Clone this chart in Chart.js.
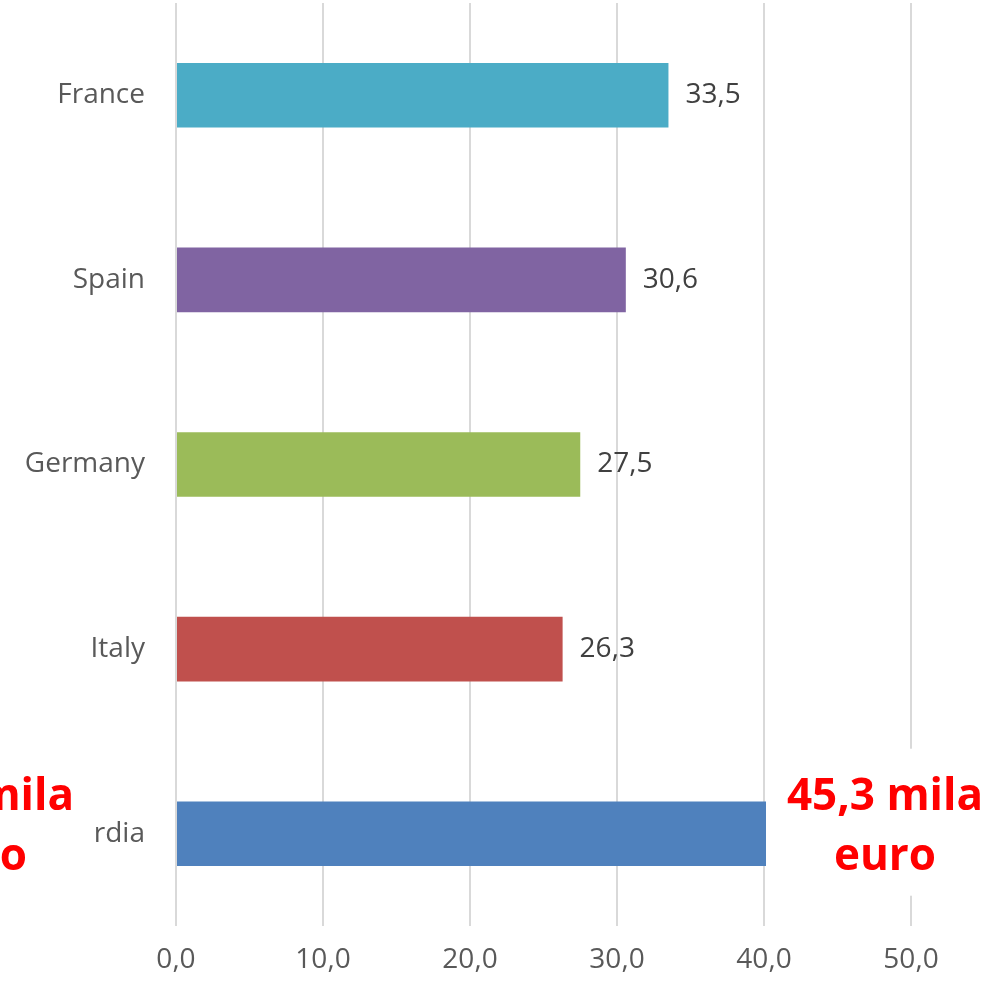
<!DOCTYPE html>
<html><head><meta charset="utf-8">
<script src="https://cdn.jsdelivr.net/npm/chart.js@4.4.0/dist/chart.umd.min.js"></script>
<style>html,body{margin:0;padding:0;background:#fff;overflow:hidden}</style>
</head><body><canvas id="c" width="1002" height="986"></canvas>
<script>
const categories = ['France', 'Spain', 'Germany', 'Italy', 'Lombardia'];
const values = [33.5, 30.6, 27.5, 26.3, 45.3];
const barColors = ['#4BACC6', '#8064A2', '#9BBB59', '#C0504D', '#4F81BD'];
const axisMin = 0, axisMax = 50, axisStep = 10;
const calloutLines = ['45,3 mila', 'euro'];

const fmt = v => v.toFixed(1).replace('.', ',');
const FONT = '"Open Sans", sans-serif';

const valueLabels = {
  id: 'valueLabels',
  afterDatasetsDraw(chart) {
    const ctx = chart.ctx;
    const meta = chart.getDatasetMeta(0);
    ctx.save();
    ctx.font = '28px ' + FONT;
    ctx.fillStyle = '#404040';
    ctx.textAlign = 'left';
    ctx.textBaseline = 'middle';
    meta.data.forEach((bar, i) => {
      ctx.fillText(fmt(values[i]), bar.x + 17, bar.y);
    });
    ctx.restore();
  }
};

const callout = {
  id: 'callout',
  afterDraw(chart) {
    const ctx = chart.ctx;
    const xs = chart.scales.x;
    const meta = chart.getDatasetMeta(0);
    const bar = meta.data[values.length - 1];
    const top = bar.y - 85, bottom = bar.y + 62;
    const rightLeft = xs.getPixelForValue(40) + 2;
    ctx.save();
    ctx.fillStyle = '#ffffff';
    ctx.fillRect(rightLeft, top, chart.width - rightLeft, bottom - top);
    ctx.fillRect(-150, top, 246, bottom - top);
    ctx.fillStyle = '#FF0000';
    ctx.font = 'bold 44px ' + FONT;
    ctx.textAlign = 'center';
    ctx.textBaseline = 'alphabetic';
    [885, -24].forEach(cx => {
      ctx.fillText(calloutLines[0], cx, bar.y - 24);
      ctx.fillText(calloutLines[1], cx, bar.y + 36);
    });
    ctx.restore();
  }
};

new Chart(document.getElementById('c'), {
  type: 'bar',
  data: {
    labels: categories,
    datasets: [{
      data: values,
      backgroundColor: barColors,
      borderWidth: 0,
      barPercentage: 0.35,
      categoryPercentage: 1
    }]
  },
  options: {
    indexAxis: 'y',
    responsive: false,
    animation: false,
    devicePixelRatio: 1,
    layout: { padding: { top: 3, right: 91, left: 0, bottom: 0 } },
    plugins: { legend: { display: false }, tooltip: { enabled: false } },
    scales: {
      x: {
        min: axisMin, max: axisMax,
        ticks: { stepSize: axisStep, callback: v => fmt(v), font: { family: FONT, size: 28 }, color: '#595959', padding: 17 },
        grid: { color: '#d9d9d9', lineWidth: 2, drawTicks: false },
        border: { display: false },
        afterFit: s => { s.height = 60; s.paddingLeft = 0; s.paddingRight = 0; }
      },
      y: {
        ticks: { font: { family: FONT, size: 28 }, color: '#595959', padding: 31 },
        grid: { display: false, drawTicks: false },
        border: { display: false },
        afterFit: s => { s.width = 176; s.paddingTop = 0; s.paddingBottom = 0; }
      }
    }
  },
  plugins: [valueLabels, callout]
});
</script>
</body></html>
